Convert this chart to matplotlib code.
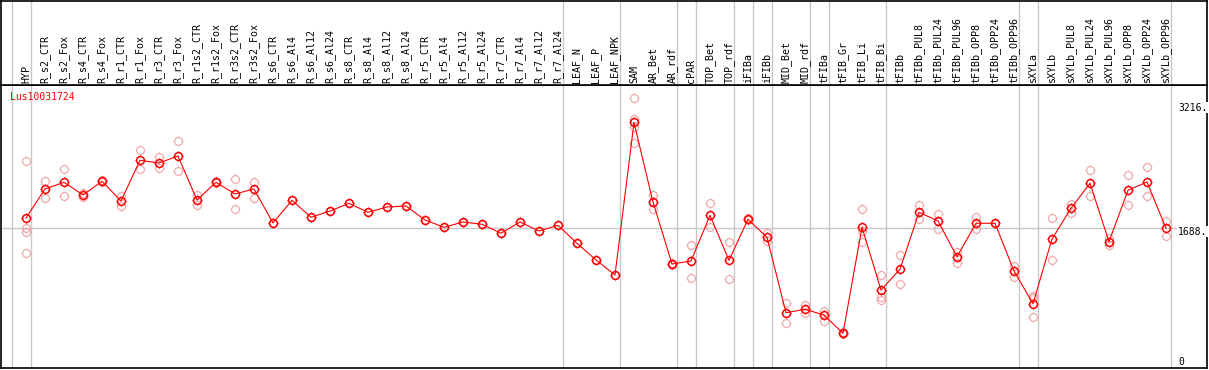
import numpy as np
import matplotlib
matplotlib.use("Agg")
import matplotlib.pyplot as plt
from matplotlib.path import Path
from matplotlib.transforms import blended_transform_factory, offset_copy

# ---------------- data ----------------
gene = "Lus10031724"
samples = ["HYP", "R_s2_CTR", "R_s2_Fox", "R_s4_CTR", "R_s4_Fox", "R_r1_CTR", "R_r1_Fox",
           "R_r3_CTR", "R_r3_Fox", "R_r1s2_CTR", "R_r1s2_Fox", "R_r3s2_CTR", "R_r3s2_Fox",
           "R_s6_CTR", "R_s6_Al4", "R_s6_Al12", "R_s6_Al24", "R_s8_CTR", "R_s8_Al4",
           "R_s8_Al12", "R_s8_Al24", "R_r5_CTR", "R_r5_Al4", "R_r5_Al12", "R_r5_Al24",
           "R_r7_CTR", "R_r7_Al4", "R_r7_Al12", "R_r7_Al24", "LEAF_N", "LEAF_P", "LEAF_NPK",
           "SAM", "AR_Bet", "AR_rdf", "cPAR", "TOP_Bet", "TOP_rdf", "iFIBa", "iFIBb",
           "MID_Bet", "MID_rdf", "tFIBa", "tFIB_Gr", "tFIB_Li", "tFIB_Bi", "tFIBb",
           "tFIBb_PUL8", "tFIBb_PUL24", "tFIBb_PUL96", "tFIBb_OPP8", "tFIBb_OPP24",
           "tFIBb_OPP96", "sXYLa", "sXYLb", "sXYLb_PUL8", "sXYLb_PUL24", "sXYLb_PUL96",
           "sXYLb_OPP8", "sXYLb_OPP24", "sXYLb_OPP96"]

mean_values = [1815, 2173, 2255, 2099, 2267, 2025, 2526, 2493, 2579, 2037, 2255, 2111, 2173,
               1754, 2033, 1824, 1901, 1996, 1885, 1951, 1963, 1791, 1701, 1766, 1738,
               1627, 1766, 1655, 1725, 1503, 1298, 1113,
               2992, 2012, 1248, 1285, 1848, 1294, 1799, 1577,
               648, 690, 620, 394, 1701, 928, 1183,
               1885, 1778, 1338, 1750, 1750, 1162,
               759, 1556, 1935, 2243, 1523, 2157, 2259, 1688]

replicates = [
    [2514, 1688, 1646, 1380], [2271, 2065], [2415, 2083], [2120, 2080], [2280, 2255],
    [2086, 1963], [2649, 2415], [2567, 2428], [2760, 2391], [2099, 1972], [2265, 2245],
    [2292, 1922], [2259, 2065],
    [1754], [2033], [1824], [1901], [1996], [1885], [1951], [1963], [1791], [1701],
    [1766], [1738], [1627], [1766], [1655], [1725], [1503], [1298], [1113],
    [3290, 3035, 2935, 2743], [2095, 1922], [1260, 1236], [1479, 1072], [2000, 1701],
    [1519, 1060], [1810, 1790], [1634, 1535],
    [768, 521], [743, 648], [669, 550], [405, 385], [1926, 1659, 1523], [1109, 845, 801],
    [1356, 1002],
    [1972, 1799], [1864, 1676], [1396, 1264], [1831, 1683], [1750], [1227, 1092],
    [854, 595, 828], [1811, 1298], [1988, 1873], [2403, 2083], [1565, 1479],
    [2341, 1975], [2444, 2083], [1778, 1590]]

group_ends = [-1, 0, 28, 31, 34, 35, 37, 38, 39, 41, 42, 45, 52, 53, 60]
axis_labels = ["3216.", "1688.", "0"]
axis_label_values = [3216, 1688, 0]
ref_line_value = 1688

# ---------------- style ----------------
W, H = 1209, 370
RED = "#ff0000"
PALE = "#f0a0a0"
GRID = "#c8c8c8"
FONT = "DejaVu Sans Mono"


def fr(x0, y0, x1, y1):
    return [x0 / W, 1 - y1 / H, (x1 - x0) / W, (y1 - y0) / H]


# four short ticks around the circle
R_OUT = 1.35
tick_verts = [(0, 1.0), (0, R_OUT), (0, -1.0), (0, -R_OUT),
              (1.0, 0), (R_OUT, 0), (-1.0, 0), (-R_OUT, 0)]
tick_codes = [Path.MOVETO, Path.LINETO] * 4
ticks = Path(tick_verts, tick_codes)

fig = plt.figure(figsize=(W / 100, H / 100), dpi=100)
ax = fig.add_axes(fr(1, 85, 1207, 368))
hx = fig.add_axes(fr(1, 0.5, 1207, 85))

x = np.arange(len(samples))
xlim = ((1 - 26) / 19, (1207 - 26) / 19)
for a in (ax, hx):
    a.set_xlim(*xlim)
    a.set_xticks([])
    a.set_yticks([])
    for s in a.spines.values():
        s.set_color("black")
        s.set_linewidth(1.2)
ax.set_ylim(-33.3, 3454)
hx.set_ylim(0, 1)

for g in group_ends:
    for a in (ax, hx):
        a.axvline(g + 0.25, color=GRID, lw=1.0, zorder=0)
ax.axhline(ref_line_value, color=GRID, lw=1.0, zorder=0)

MS_T = 7.6            # extent of ticks (points)
MS_C = MS_T / R_OUT   # circle diameter (points)


def gear(xs, ys, color, lw, z):
    ax.plot(xs, ys, linestyle="none", marker="o", markersize=MS_C,
            markerfacecolor="none", markeredgecolor=color, markeredgewidth=lw, zorder=z)
    ax.plot(xs, ys, linestyle="none", marker=ticks, markersize=MS_T,
            markerfacecolor="none", markeredgecolor=color, markeredgewidth=lw * 0.8,
            zorder=z)


# replicate points
for i, reps in enumerate(replicates):
    gear([i] * len(reps), reps, PALE, 0.8, 2)

# mean line
ax.plot(x, mean_values, color=RED, lw=0.8, zorder=3)
gear(x, mean_values, RED, 1.1, 4)

# header labels
tr = blended_transform_factory(hx.transData, hx.transAxes)
for i, lab in enumerate(samples):
    hx.text(i, 2.5 / 85, lab, rotation=90, ha="center", va="bottom", transform=tr,
            fontsize=7.2, family=FONT, color="black")

# gene name
ax.text(9 / 1206, 1 - 12 / 283, gene, ha="left", va="center", transform=ax.transAxes,
        fontsize=7, family=FONT, color=RED)

# right axis labels
trr = blended_transform_factory(ax.transAxes, ax.transData)
for lab, v in zip(axis_labels, axis_label_values):
    dy = -3.4 if v != 0 else 3.6
    t = offset_copy(trr, fig=fig, x=0, y=dy * 72 / 100, units="points")
    ax.text(1177 / 1206, v, lab, ha="left", va="center", transform=t,
            fontsize=7, family=FONT, color="black",
            bbox=dict(facecolor="white", edgecolor="none", pad=0.5))

fig.savefig("out.png", dpi=100)
